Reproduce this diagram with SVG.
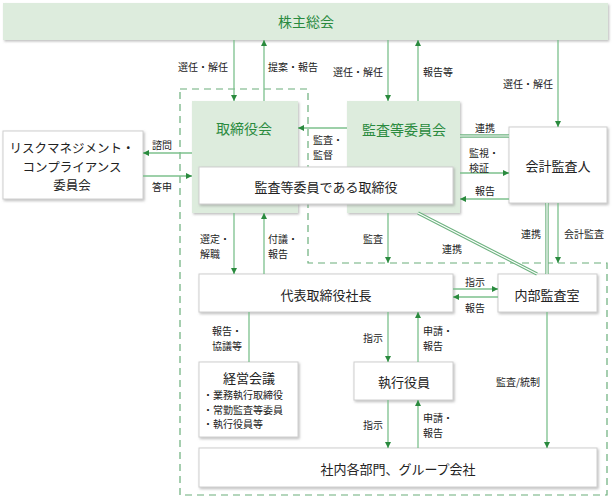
<svg xmlns="http://www.w3.org/2000/svg" width="613" height="498" viewBox="0 0 613 498">
<defs>
<style>
text{font-family:"Noto Sans CJK JP","Noto Sans",sans-serif;fill:#222;dominant-baseline:central}
.lbl{font-size:10px}
.mid{text-anchor:middle}
.nt{font-size:13px;text-anchor:middle}
.rt{font-size:12.5px;text-anchor:middle}
.gt{font-size:14px;text-anchor:middle;fill:#2a8a3e}
.sub{font-size:10px}
.gbox{fill:#ddecdd}
.wbox{fill:#fff;stroke:#cfcfcf;stroke-width:1}
.ln{stroke:#7cc08d;stroke-width:1.3;fill:none}
.dbl{stroke:#6db27f;stroke-width:3.4;fill:none}
.dbli{stroke:#fff;stroke-width:1.2;fill:none}
.dash{stroke:#6aae7b;stroke-width:1.2;fill:none;stroke-dasharray:7 5}
</style>
<marker id="ah" markerUnits="userSpaceOnUse" markerWidth="6" markerHeight="6" refX="6" refY="3" orient="auto">
<path d="M0,0 L6,3 L0,6 z" fill="#2a8a3e"/>
</marker>
<filter id="sh" x="-5%" y="-5%" width="112%" height="120%">
<feDropShadow dx="1.2" dy="1.5" stdDeviation="0.8" flood-color="#888" flood-opacity="0.55"/>
</filter>
</defs>

<g id="boundary">
<path class="dash" d="M180,89 H308 V263 H607 V495 H180 Z"/>
</g>

<g id="shareholders">
<rect class="gbox" x="3" y="3" width="605" height="37" filter="url(#sh)"/>
<text class="gt" x="306" y="21">株主総会</text>
</g>

<g id="board">
<rect class="gbox" x="192" y="101" width="106" height="112" filter="url(#sh)"/>
<text class="gt" x="244" y="128">取締役会</text>
</g>

<g id="audit-committee">
<rect class="gbox" x="347" y="101" width="113" height="112" filter="url(#sh)"/>
<text class="gt" x="404" y="129">監査等委員会</text>
</g>

<g id="audit-directors">
<rect class="wbox" x="199" y="167" width="254" height="37" filter="url(#sh)"/>
<text class="nt" x="326" y="186">監査等委員である取締役</text>
</g>

<g id="risk-committee">
<rect class="wbox" x="3" y="131" width="140" height="68" filter="url(#sh)"/>
<text class="rt" x="72" y="147.7">リスクマネジメント・<tspan x="72" dy="18.3">コンプライアンス</tspan><tspan x="72" dy="18.3">委員会</tspan></text>
</g>

<g id="accounting-auditor">
<rect class="wbox" x="509" y="127" width="98" height="76" filter="url(#sh)"/>
<text class="nt" x="558" y="165">会計監査人</text>
</g>

<g id="president">
<rect class="wbox" x="199" y="274" width="254" height="38" filter="url(#sh)"/>
<text class="nt" x="326" y="294">代表取締役社長</text>
</g>

<g id="internal-audit">
<rect class="wbox" x="498" y="274" width="99" height="38" filter="url(#sh)"/>
<text class="nt" x="547" y="294">内部監査室</text>
</g>

<g id="management-meeting">
<rect class="wbox" x="199" y="362" width="99" height="75" filter="url(#sh)"/>
<text class="nt" x="249" y="377.5">経営会議</text>
<text class="sub" x="203" y="394.5">・業務執行取締役<tspan x="203" dy="14">・常勤監査等委員</tspan><tspan x="203" dy="14">・執行役員等</tspan></text>
</g>

<g id="executive-officers">
<rect class="wbox" x="354" y="362" width="99" height="38" filter="url(#sh)"/>
<text class="nt" x="404" y="381">執行役員</text>
</g>

<g id="departments">
<rect class="wbox" x="199" y="448" width="398" height="39" filter="url(#sh)"/>
<text class="nt" x="398" y="468">社内各部門、グループ会社</text>
</g>

<g id="connectors">
<line class="ln" x1="234" y1="40" x2="234" y2="101" marker-end="url(#ah)"/>
<line class="ln" x1="264" y1="101" x2="264" y2="40" marker-end="url(#ah)"/>
<line class="ln" x1="388" y1="40" x2="388" y2="101" marker-end="url(#ah)"/>
<line class="ln" x1="418" y1="101" x2="418" y2="40" marker-end="url(#ah)"/>
<line class="ln" x1="558" y1="40" x2="558" y2="127" marker-end="url(#ah)"/>
<line class="ln" x1="347" y1="128" x2="298" y2="128" marker-end="url(#ah)"/>
<line class="ln" x1="192" y1="153" x2="143" y2="153" marker-end="url(#ah)"/>
<line class="ln" x1="143" y1="176" x2="192" y2="176" marker-end="url(#ah)"/>
<line class="ln" x1="460" y1="173" x2="509" y2="173" marker-end="url(#ah)"/>
<line class="ln" x1="509" y1="199" x2="460" y2="199" marker-end="url(#ah)"/>
<line class="ln" x1="234" y1="213" x2="234" y2="274" marker-end="url(#ah)"/>
<line class="ln" x1="264" y1="274" x2="264" y2="213" marker-end="url(#ah)"/>
<line class="ln" x1="388" y1="213" x2="388" y2="263" marker-end="url(#ah)"/>
<line class="ln" x1="558" y1="203" x2="558" y2="263" marker-end="url(#ah)"/>
<line class="ln" x1="453" y1="289" x2="498" y2="289" marker-end="url(#ah)"/>
<line class="ln" x1="498" y1="297" x2="453" y2="297" marker-end="url(#ah)"/>
<line class="ln" x1="249" y1="312" x2="249" y2="362"/>
<line class="ln" x1="388" y1="312" x2="388" y2="362" marker-end="url(#ah)"/>
<line class="ln" x1="418" y1="362" x2="418" y2="312" marker-end="url(#ah)"/>
<line class="ln" x1="388" y1="400" x2="388" y2="448" marker-end="url(#ah)"/>
<line class="ln" x1="418" y1="448" x2="418" y2="400" marker-end="url(#ah)"/>
<line class="ln" x1="547" y1="312" x2="547" y2="448" marker-end="url(#ah)"/>
<line class="dbl" x1="460" y1="136" x2="509" y2="136"/>
<line class="dbli" x1="460" y1="136" x2="509" y2="136"/>
<line class="dbl" x1="547" y1="203" x2="547" y2="274"/>
<line class="dbli" x1="547" y1="203" x2="547" y2="274"/>
<line class="dbl" x1="418" y1="213" x2="537" y2="274"/>
<line class="dbli" x1="418" y1="213" x2="537" y2="274"/>
</g>

<g id="labels">
<text class="lbl mid" x="203" y="66">選任・解任</text>
<text class="lbl" x="268" y="66">提案・報告</text>
<text class="lbl mid" x="358" y="71">選任・解任</text>
<text class="lbl" x="423" y="71">報告等</text>
<text class="lbl mid" x="528" y="83">選任・解任</text>
<text class="lbl mid" x="162" y="144">諮問</text>
<text class="lbl mid" x="162" y="186">答申</text>
<text class="lbl" x="313" y="139">監査・<tspan x="313" dy="14.5">監督</tspan></text>
<text class="lbl mid" x="485" y="127">連携</text>
<text class="lbl" x="469" y="152">監視・<tspan x="469" dy="14.5">検証</tspan></text>
<text class="lbl mid" x="485" y="190">報告</text>
<text class="lbl" x="200" y="238">選定・<tspan x="200" dy="14.5">解職</tspan></text>
<text class="lbl" x="268" y="238">付議・<tspan x="268" dy="14.5">報告</tspan></text>
<text class="lbl mid" x="373" y="238">監査</text>
<text class="lbl mid" x="452" y="248">連携</text>
<text class="lbl mid" x="531" y="233">連携</text>
<text class="lbl mid" x="584" y="233">会計監査</text>
<text class="lbl mid" x="475" y="281">指示</text>
<text class="lbl mid" x="475" y="307">報告</text>
<text class="lbl" x="212" y="330">報告・<tspan x="212" dy="14.5">協議等</tspan></text>
<text class="lbl mid" x="373" y="337">指示</text>
<text class="lbl" x="423" y="330">申請・<tspan x="423" dy="14.5">報告</tspan></text>
<text class="lbl mid" x="373" y="424">指示</text>
<text class="lbl" x="423" y="417">申請・<tspan x="423" dy="14.5">報告</tspan></text>
<text class="lbl mid" x="518" y="381">監査/統制</text>
</g>
</svg>
